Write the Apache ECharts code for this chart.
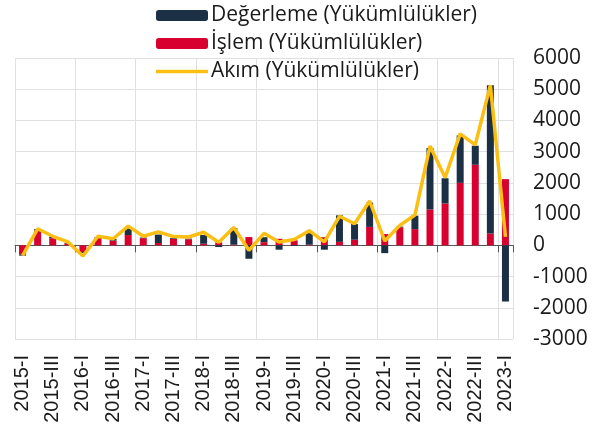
<!DOCTYPE html>
<html>
<head>
<meta charset="utf-8">
<script src="https://cdn.jsdelivr.net/npm/echarts@6/dist/echarts.min.js"></script>
<style>
html,body{margin:0;padding:0;background:#fff;}
#c{width:611px;height:426px;}
</style>
</head>
<body>
<div id="c"></div>
<script>
const categories = ['2015-I','2015-II','2015-III','2015-IV','2016-I','2016-II','2016-III','2016-IV','2017-I','2017-II','2017-III','2017-IV','2018-I','2018-II','2018-III','2018-IV','2019-I','2019-II','2019-III','2019-IV','2020-I','2020-II','2020-III','2020-IV','2021-I','2021-II','2021-III','2021-IV','2022-I','2022-II','2022-III','2022-IV','2023-I'];
const islem = [-290,480,230,60,-215,230,150,330,230,75,210,195,50,95,20,265,100,210,160,20,260,110,180,590,360,580,520,1150,1340,2000,2580,380,2120];
const degerleme = [-40,40,50,20,-30,30,50,210,20,270,30,20,280,-55,530,-430,160,-140,-20,370,-140,850,500,780,-250,20,430,1970,810,1520,610,4750,-1800];
const akim = [-330,530,290,110,-340,290,210,615,290,430,280,268,420,100,570,-160,385,110,190,470,110,930,690,1420,140,640,970,3180,2170,3570,3220,5130,270];
const yTicks = {min:-3000, max:6000, interval:1000};

const chart = echarts.init(document.getElementById('c'));
const font = '"Open Sans", sans-serif';
chart.setOption({
  animation:false,
  backgroundColor:'#ffffff',
  legend:{
    orient:'vertical', left:151, top:0, itemGap:7,
    itemWidth:52, itemHeight:11,
    textStyle:{fontFamily:font, fontSize:21, color:'#1a1a1a', padding:[0,0,0,-2]},
    data:['Değerleme (Yükümlülükler)','İşlem (Yükümlülükler)',{name:'Akım (Yükümlülükler)', icon:'path://M0,0H52V3.5H0Z'}]
  },
  grid:{left:15, right:98, top:58, bottom:87},
  xAxis:[{
    type:'category', data:categories, boundaryGap:true,
    axisLine:{onZero:true, lineStyle:{color:'#555555', width:1}},
    axisTick:{show:true, length:7, lineStyle:{color:'#555555'}},
    axisLabel:{show:false},
    splitLine:{show:true, lineStyle:{color:'#e0e0e0', width:1}}
  },{
    type:'category', data:categories, position:'bottom', boundaryGap:true,
    axisLine:{show:false, onZero:false}, axisTick:{show:false},
    splitLine:{show:false},
    axisLabel:{interval:1, rotate:90, margin:16, fontFamily:'"Liberation Sans", Arial, sans-serif', fontSize:20, color:'#1a1a1a'}
  }],
  yAxis:{
    type:'value', position:'right', min:yTicks.min, max:yTicks.max, interval:yTicks.interval,
    axisLine:{show:false}, axisTick:{show:false},
    axisLabel:{margin:20, fontFamily:font, fontSize:21, color:'#1a1a1a', formatter:function(v){return String(v);}},
    splitLine:{show:true, lineStyle:{color:'#e0e0e0', width:1}}
  },
  series:[
    {name:'İşlem (Yükümlülükler)', type:'bar', stack:'a', data:islem, barWidth:7, itemStyle:{color:'#d7002f'}},
    {name:'Değerleme (Yükümlülükler)', type:'bar', stack:'a', data:degerleme, barWidth:7, itemStyle:{color:'#1c3045'}},
    {name:'Akım (Yükümlülükler)', type:'line', data:akim, symbol:'none', z:5, lineStyle:{color:'#fbbf14', width:3.5}, itemStyle:{color:'#fbbf14'}}
  ]
});
</script>
</body>
</html>
